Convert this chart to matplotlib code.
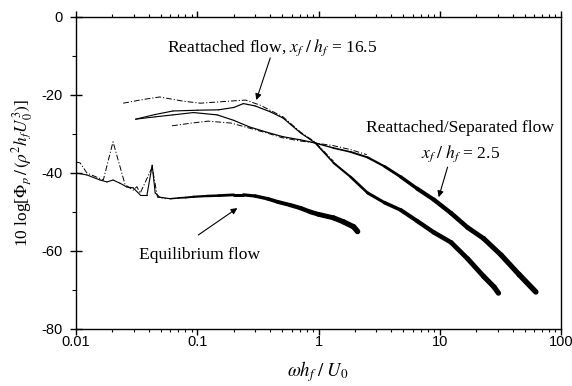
import numpy as np
import matplotlib
matplotlib.use("Agg")
import matplotlib.pyplot as plt
from matplotlib.collections import LineCollection
from matplotlib.ticker import FixedLocator, LogLocator, NullFormatter, FixedFormatter, MultipleLocator

plt.rcParams['axes.unicode_minus'] = False
plt.rcParams['mathtext.fontset'] = 'stix'

# ---------------- data ----------------
# Equilibrium flow, solid
eq_x = [0.01, 0.0123, 0.0158, 0.018, 0.0202, 0.023, 0.0263, 0.0296, 0.0338, 0.0385, 0.0425, 0.045,
        0.049, 0.06, 0.07, 0.08, 0.093, 0.12, 0.15, 0.2, 0.24, 0.3, 0.38, 0.46, 0.58, 0.71, 0.86,
        1.0, 1.33, 1.6, 1.95, 2.1]
eq_y = [-40.0, -40.5, -41.8, -42.3, -41.8, -42.6, -43.6, -43.8, -45.6, -45.6, -38.0, -45.1,
        -46.2, -46.6, -46.4, -46.3, -46.1, -45.9, -45.8, -45.6, -45.6, -45.9, -46.6, -47.4, -48.2, -49.0, -50.0,
        -50.6, -51.5, -52.5, -53.8, -55.0]
# Equilibrium flow, dash-dot (low-frequency part)
eqd_x = [0.01, 0.0108, 0.0123, 0.0168, 0.0202, 0.0254, 0.0296, 0.0318, 0.0338, 0.0425, 0.047, 0.055]
eqd_y = [-37.2, -37.4, -40.0, -41.8, -32.0, -43.0, -44.4, -43.5, -45.2, -38.5, -46.2, -46.6]

# Reattached flow x_f/h_f = 16.5, solid
ra_x = [0.031, 0.045, 0.063, 0.1, 0.15, 0.2, 0.24, 0.3, 0.4, 0.51, 0.71, 0.94, 1.33, 1.84, 2.54,
        3.5, 4.77, 6.5, 8.9, 12.4, 17.0, 23.0, 28.0, 30.5]
ra_y = [-26.2, -25.0, -24.1, -23.9, -23.8, -23.2, -22.2, -22.8, -24.3, -25.9, -29.7, -32.3, -37.4, -41.0, -45.1,
        -47.6, -49.5, -52.3, -55.2, -57.8, -62.0, -66.5, -69.2, -70.8]
# Reattached flow x_f/h_f = 16.5, dash-dot
rad_x = [0.0245, 0.035, 0.049, 0.077, 0.106, 0.146, 0.2, 0.25, 0.33, 0.51, 0.71, 0.94, 1.33]
rad_y = [-22.1, -21.2, -20.5, -21.6, -22.1, -21.8, -21.5, -21.3, -22.6, -25.6, -29.5, -32.1, -37.0]

# Reattached/Separated flow x_f/h_f = 2.5, solid
rs_x = [0.031, 0.045, 0.063, 0.093, 0.146, 0.2, 0.27, 0.38, 0.51, 0.71, 0.94, 1.33, 1.84, 2.54,
        3.5, 4.77, 6.5, 8.9, 12.4, 17.0, 23.0, 32.0, 45.0, 62.0]
rs_y = [-26.2, -25.6, -25.1, -24.5, -25.1, -26.5, -28.2, -29.6, -30.7, -31.5, -32.3, -33.6, -34.6, -36.0,
        -38.3, -41.0, -44.0, -46.8, -50.3, -54.0, -56.8, -61.0, -66.0, -70.5]
# Reattached/Separated flow x_f/h_f = 2.5, dash-dot
rsd_x = [0.062, 0.09, 0.123, 0.19, 0.27, 0.38, 0.51, 0.71, 0.94, 1.33, 1.84, 2.5]
rsd_y = [-27.9, -27.2, -26.7, -27.2, -28.5, -29.8, -31.0, -31.8, -32.3, -33.0, -34.0, -35.3]

xticks = [0.01, 0.1, 1, 10, 100]
xtick_labels = ['0.01', '0.1', '1', '10', '100']
yticks = [0, -20, -40, -60, -80]
ytick_labels = ['0', '-20', '-40', '-60', '-80']

# ---------------- figure ----------------
fig = plt.figure(figsize=(5.72, 3.86), dpi=100)
ax = fig.add_axes([76/572, 1-329/386, (561-76)/572, (329-17)/386])
ax.set_xscale('log')
ax.set_xlim(0.01, 100)
ax.set_ylim(-80, 0)


def var_line(x, y, wx, ww):
    x = np.asarray(x, float); y = np.asarray(y, float)
    pts = np.column_stack([x, y])
    segs = np.stack([pts[:-1], pts[1:]], axis=1)
    mid = np.log10(np.sqrt(x[:-1] * x[1:]))
    widths = np.interp(mid, np.log10(wx), ww)
    lc = LineCollection(segs, linewidths=widths, colors='black', capstyle='round', joinstyle='round')
    ax.add_collection(lc)


# solid curves with thickening (noise band) toward high frequency
var_line(eq_x, eq_y, [0.01, 0.05, 0.1, 0.3, 1.0, 2.1], [0.8, 0.8, 1.6, 2.4, 3.4, 4.0])
var_line(ra_x, ra_y, [0.03, 0.9, 2.0, 6.0, 30.0], [0.8, 0.9, 1.8, 3.0, 3.8])
var_line(rs_x, rs_y, [0.03, 0.9, 3.0, 8.0, 60.0], [0.8, 0.9, 1.6, 3.0, 4.0])

dd = (0, (6, 2, 1.2, 2))
ax.plot(eqd_x, eqd_y, color='black', lw=0.7, linestyle=dd)
ax.plot(rad_x, rad_y, color='black', lw=0.7, linestyle=dd)
ax.plot(rsd_x, rsd_y, color='black', lw=0.7, linestyle=dd)

# ---------------- axes styling ----------------
ax.xaxis.set_major_locator(FixedLocator(xticks))
ax.xaxis.set_major_formatter(FixedFormatter(xtick_labels))
ax.xaxis.set_minor_locator(LogLocator(base=10, subs=np.arange(2, 10), numticks=20))
ax.xaxis.set_minor_formatter(NullFormatter())
ax.yaxis.set_major_locator(FixedLocator(yticks))
ax.yaxis.set_major_formatter(FixedFormatter(ytick_labels))
ax.yaxis.set_minor_locator(MultipleLocator(10))

for s in ax.spines.values():
    s.set_linewidth(1.0)

ax.tick_params(axis='x', which='major', direction='out', length=4, width=1.0, pad=0.5,
               labelsize=10.5, top=True)
ax.tick_params(axis='x', which='minor', direction='out', length=2.5, width=0.8, top=True)
ax.tick_params(axis='y', which='major', direction='inout', length=8, width=1.0, pad=5.5, labelsize=10.5)
ax.tick_params(axis='y', which='minor', direction='out', length=3, width=0.8)
for lab in ax.get_xticklabels() + ax.get_yticklabels():
    lab.set_fontfamily('Liberation Sans')

serif = 'Liberation Serif'
fig.text(318/572, 1-372/386, r'$\omega h_f\;/\;U_0$', ha='center', va='center', fontsize=13.5)
fig.text(23/572, 1-173/386, r'10 log[$\Phi_p\,/\,(\rho^2 h_f U_0^3)$]', ha='center', va='center',
         rotation=90, fontsize=12.5, family=serif)

arrow = dict(arrowstyle='-|>', lw=0.8, color='black', mutation_scale=9, shrinkA=0, shrinkB=0)
ax.text(0.417, -7.9, r'Reattached flow, $x_f\;/\;h_f$ = 16.5', ha='center', va='center',
        fontsize=12.6, family=serif)
ax.annotate('', xy=(0.307, -21.3), xytext=(0.40, -10.5), arrowprops=arrow)

ax.text(14.6, -28.5, 'Reattached/Separated flow', ha='center', va='center', fontsize=12.6, family=serif)
ax.text(14.9, -35.1, r'$x_f\;/\;h_f$ = 2.5', ha='center', va='center', fontsize=12.6, family=serif)
ax.annotate('', xy=(9.8, -46.2), xytext=(11.6, -38.5), arrowprops=arrow)

ax.text(0.104, -61.0, 'Equilibrium flow', ha='center', va='center', fontsize=12.6, family=serif)
ax.annotate('', xy=(0.214, -49.0), xytext=(0.102, -55.9), arrowprops=arrow)

fig.savefig('out.png', dpi=100)
